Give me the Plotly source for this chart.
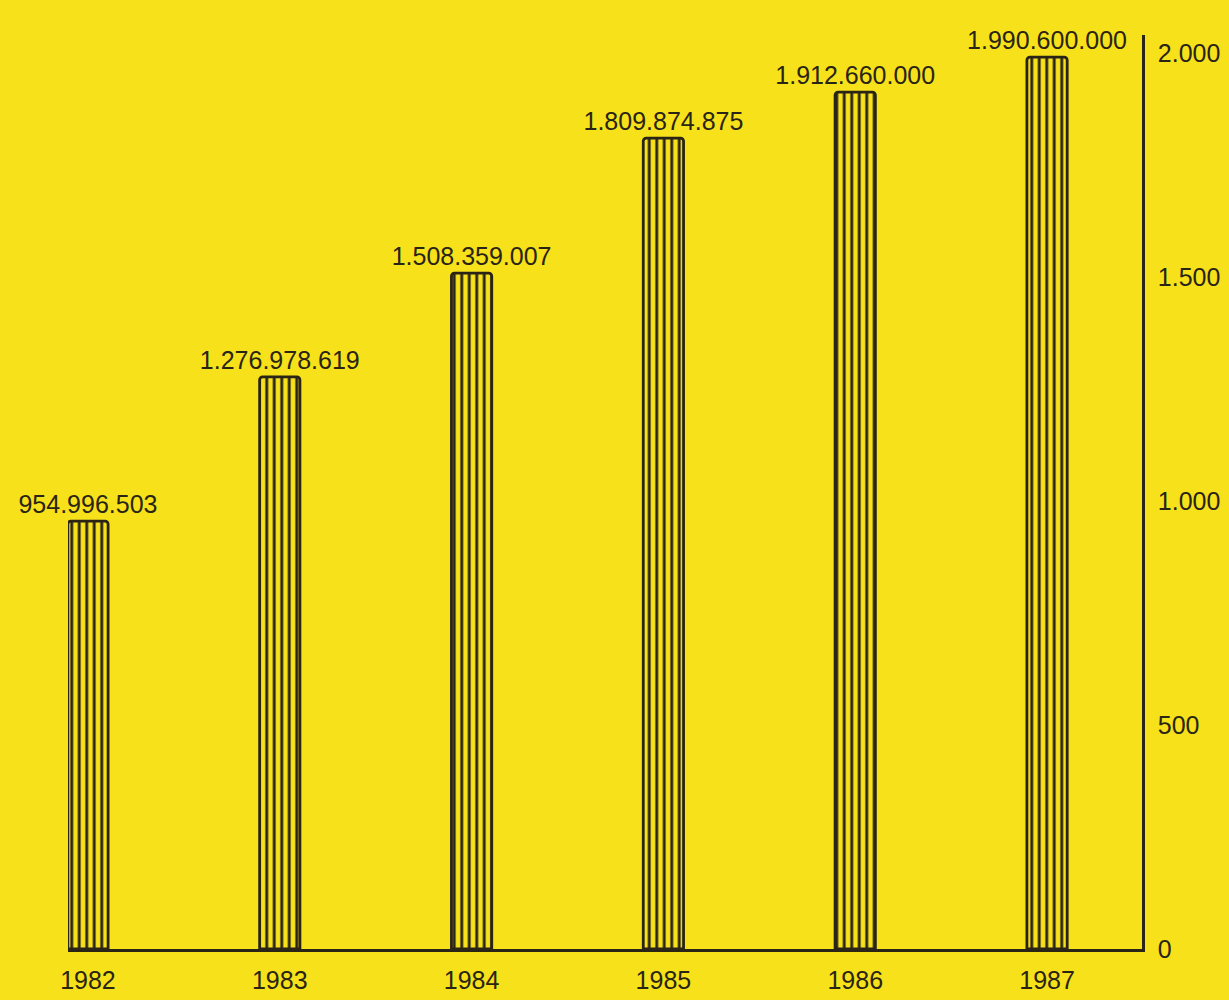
import plotly.graph_objects as go

years = [1982, 1983, 1984, 1985, 1986, 1987]
values = [954996503, 1276978619, 1508359007, 1809874875, 1912660000, 1990600000]
tick_vals = [0, 500, 1000, 1500, 2000]

bg = "#F6E11B"
ink = "#2A2416"

fig = go.Figure()
fig.add_trace(go.Bar(
    x=years,
    y=[v / 1e6 for v in values],
    customdata=values,
    texttemplate="%{customdata:,d}",
    textposition="outside",
    constraintext="none",
    textfont=dict(size=25, color=ink, family="Liberation Sans, Arial, sans-serif"),
    cliponaxis=False,
    width=0.21,
    marker=dict(
        color=bg,
        line=dict(color=ink, width=2.8),
        pattern=dict(shape="|", fgcolor=ink, bgcolor=bg, size=7.5, solidity=0.38, fillmode="replace"),
        cornerradius=3,
    ),
    hoverinfo="skip",
))

fig.update_layout(
    width=1229, height=1000,
    margin=dict(l=68, r=87, t=35, b=51, autoexpand=False),
    paper_bgcolor=bg, plot_bgcolor=bg,
    separators=",.",
    showlegend=False,
    font=dict(family="Liberation Sans, Arial, sans-serif", size=25, color=ink),
    xaxis=dict(
        range=[1981.896, 1987.495],
        tickmode="array", tickvals=years, ticktext=[str(y) for y in years],
        showline=True, linecolor=ink, linewidth=2.8, automargin=False,
        showgrid=False, zeroline=False, ticks="", ticklabelstandoff=7,
    ),
    yaxis=dict(
        range=[0, 2040], side="right",
        tickmode="array", tickvals=tick_vals, tickformat=",d",
        showline=True, linecolor=ink, linewidth=2.8, automargin=False,
        showgrid=False, zeroline=False, ticks="", ticklabelstandoff=8,
    ),
)

fig.write_html(
    "out.html",
    config={"displayModeBar": False, "staticPlot": True},
    post_script="document.body.style.margin='0';document.body.style.overflow='hidden';",
)
